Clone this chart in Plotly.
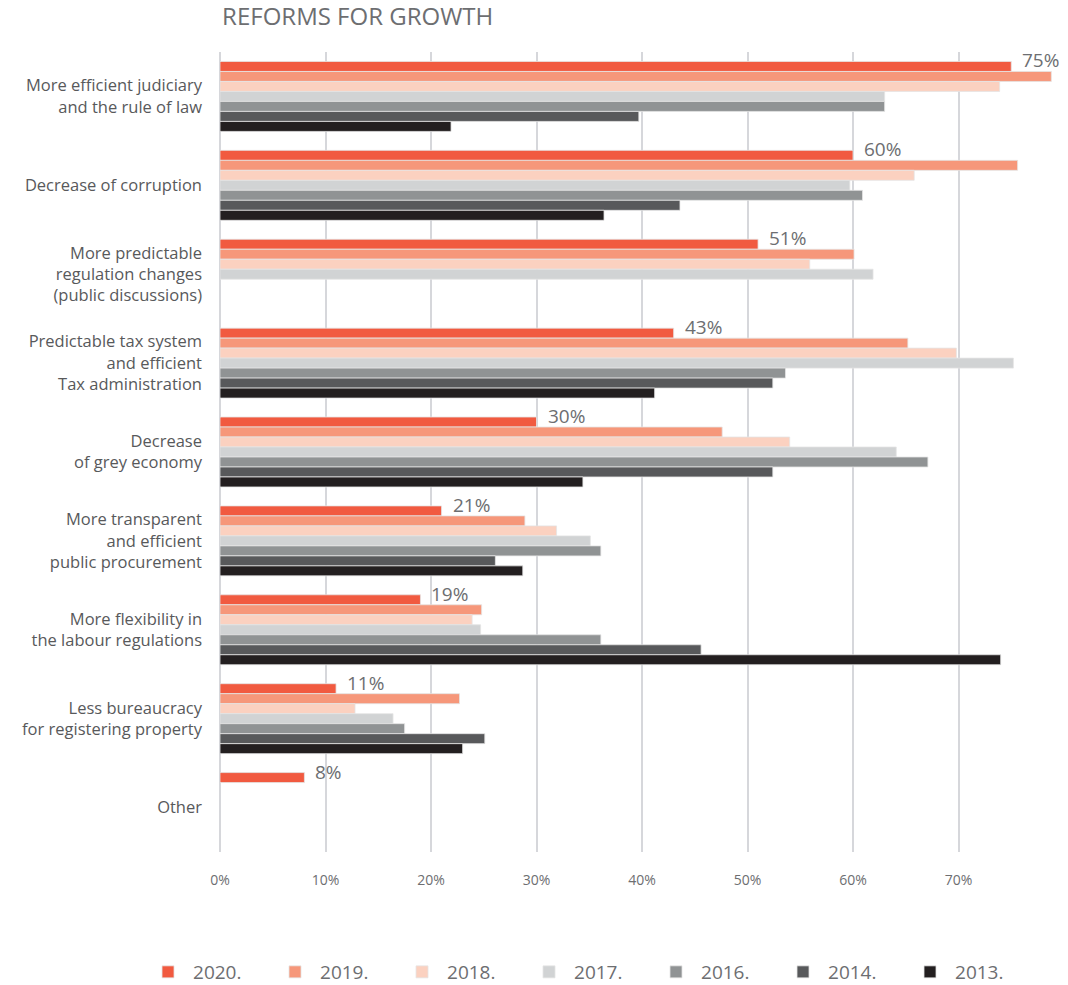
import plotly.graph_objects as go

# Reform priorities (top to bottom) and share of respondents per survey year, in %
categories = [
    "More efficient judiciary<br>and the rule of law",
    "Decrease of corruption",
    "More predictable<br>regulation changes<br>(public discussions)",
    "Predictable tax system<br>and efficient<br>Tax administration",
    "Decrease<br>of grey economy",
    "More transparent<br>and efficient<br>public procurement",
    "More flexibility in<br>the labour regulations",
    "Less bureaucracy<br>for registering property",
    "Other",
]

years = ["2020.", "2019.", "2018.", "2017.", "2016.", "2014.", "2013."]

v2020 = [75, 60, 51, 43, 30, 21, 19, 11, 8]
v2019 = [78.8, 75.6, 60.1, 65.2, 47.6, 28.9, 24.8, 22.7, None]
v2018 = [73.9, 65.8, 55.9, 69.8, 54.0, 31.9, 23.9, 12.8, None]
v2017 = [63.0, 59.7, 61.9, 75.2, 64.1, 35.1, 24.7, 16.4, None]
v2016 = [63.0, 60.9, None, 53.6, 67.1, 36.1, 36.1, 17.5, None]
v2014 = [39.7, 43.6, None, 52.4, 52.4, 26.1, 45.6, 25.1, None]
v2013 = [21.9, 36.4, None, 41.2, 34.4, 28.7, 74.0, 23.0, None]

tick_vals = [0, 10, 20, 30, 40, 50, 60, 70]
tick_text = ["0%", "10%", "20%", "30%", "40%", "50%", "60%", "70%"]

series = [v2020, v2019, v2018, v2017, v2016, v2014, v2013]
colors = ["#F15A40", "#F6977A", "#FBD1C0", "#D1D3D4", "#909394", "#58595B", "#231F20"]

FONT = "Open Sans"
GREY_TEXT = "#6d6e71"
BARGAP = 0.213

fig = go.Figure()
for name, vals, col in zip(years, series, colors):
    fig.add_trace(go.Bar(
        name=name,
        y=categories,
        x=vals,
        orientation="h",
        marker=dict(color=col, line=dict(color="#e4e4e4", width=0.8)),
        hoverinfo="skip",
    ))

# Value labels for the latest year, sitting just above-right of each 2020 bar
bar_h = (1 - BARGAP) / len(series)
first_offset = -(len(series) - 1) / 2 * bar_h
for i, v in enumerate(v2020):
    fig.add_annotation(
        x=v,
        y=i + first_offset,
        xref="x",
        yref="y",
        text=f"{v:.0f}%",
        showarrow=False,
        xanchor="left",
        yanchor="middle",
        xshift=9,
        yshift=6,
        font=dict(family=FONT, size=19, color=GREY_TEXT),
    )

fig.update_layout(
    width=1068,
    height=985,
    margin=dict(l=220, r=4, t=52, b=133, autoexpand=False),
    paper_bgcolor="white",
    plot_bgcolor="white",
    barmode="group",
    bargap=BARGAP,
    bargroupgap=0,
    font=dict(family=FONT, color=GREY_TEXT),
    title=dict(
        text="REFORMS FOR GROWTH",
        font=dict(family=FONT, size=24, color=GREY_TEXT),
        x=0.0025,
        xref="paper",
        xanchor="left",
        y=1 - 17 / 985,
        yref="container",
        yanchor="middle",
    ),
    xaxis=dict(
        range=[0, 80],
        tickvals=tick_vals,
        ticktext=tick_text,
        showgrid=True,
        gridcolor="#d6d7db",
        gridwidth=1.5,
        zeroline=True,
        zerolinecolor="#d6d7db",
        zerolinewidth=1.5,
        showline=False,
        ticks="",
        ticklabelstandoff=18,
        tickfont=dict(family=FONT, size=14, color=GREY_TEXT),
        fixedrange=True,
    ),
    yaxis=dict(
        type="category",
        autorange="reversed",
        showgrid=False,
        showline=False,
        ticks="",
        ticklabelstandoff=17,
        tickfont=dict(family=FONT, size=16.5, color="#58595B"),
        fixedrange=True,
    ),
    legend=dict(
        orientation="h",
        x=-0.0912,
        xanchor="left",
        y=-0.15,
        yanchor="middle",
        itemwidth=40,
        entrywidth=72,
        entrywidthmode="pixels",
        font=dict(family=FONT, size=19, color=GREY_TEXT),
        traceorder="normal",
    ),
)

fig.write_html("out.html")
